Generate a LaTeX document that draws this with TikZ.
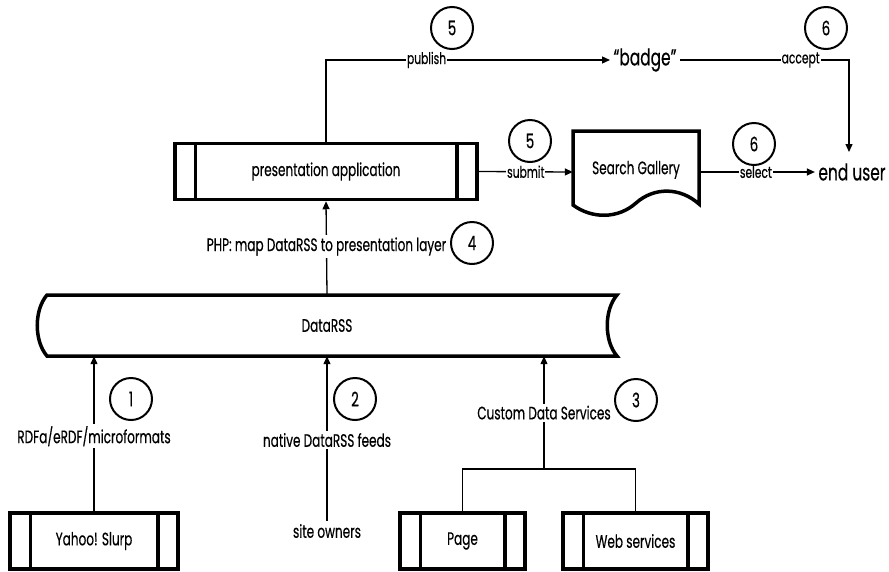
\documentclass[tikz,border=0pt]{standalone}
\usepackage{fontspec}
\setmainfont[FakeStretch=0.67,FakeBold=0.4]{Poppins}
\usetikzlibrary{arrows.meta}

\begin{document}
\begin{tikzpicture}[x=1pt,y=-1pt,
  font=\fontsize{18}{21}\selectfont,
  conn/.style={line width=1.3pt},
  arr/.style={conn,-{Triangle[length=8pt,width=7pt]}},
  procbox/.style={draw, line width=3.5pt, minimum height=56pt, inner sep=0pt},
  bar/.style={line width=3.5pt},
  num/.style={draw, circle, line width=2pt, minimum size=42pt, inner sep=0pt, font=\fontsize{20}{24}\selectfont},
  lblA/.style={fill=white, inner sep=2pt},
  lblB/.style={fill=white, inner sep=1pt, font=\fontsize{16}{18}\selectfont},
  big/.style={font=\fontsize{23}{27}\selectfont},
]
\useasboundingbox (0,0) rectangle (889,571);

% process boxes with double side bars
\node[procbox, minimum width=302pt] (pres) at (326,171.5) {presentation application};
\node[procbox, minimum width=168pt] (yahoo) at (94,541) {Yahoo! Slurp};
\node[procbox, minimum width=125pt] (page) at (462.5,541) {Page};
\node[procbox, minimum width=145pt] (web) at (635.5,541) {Web services};
\foreach \b in {pres,yahoo,page,web}{
  \draw[bar] ([xshift=22pt]\b.north west) -- ([xshift=22pt]\b.south west)
             ([xshift=-22pt]\b.north east) -- ([xshift=-22pt]\b.south east);
}

% stored data store
\node[minimum width=580pt, minimum height=61pt, inner sep=0pt] (data) at (327,325.5) {DataRSS};
\draw[bar] (47,295) -- (617,295) .. controls (604,310) and (604,341) .. (617,356)
  -- (47,356) .. controls (34,341) and (34,310) .. (47,295) -- cycle;

% document shape
\node[minimum width=126pt, minimum height=82pt, inner sep=0pt] (sg) at (636,172) {\raisebox{9pt}{Search Gallery}};
\draw[bar] (573,205) -- (573,131) -- (699,131) -- (699,204)
  .. controls (680,187) and (654,187) .. (636,203)
  .. controls (618,219) and (592,219) .. (573,205) -- cycle;

% plain text ends
\node[big] (badge) at (645,60) {“badge”};
\node[big] (eu) at (852,172) {end user};
\node (so) at (327,531) {site owners};
\coordinate (eutop) at (849,152);
\coordinate (br) at (544,469);

% connectors
\draw[arr] (pres.north) |- node[lblB, pos=0.677]{publish} (badge.west);
\draw[arr] (badge.east) -| node[lblB, pos=0.357]{accept} (eutop);
\draw[arr] (pres.east) -- node[lblB]{submit} (sg.west);
\draw[arr] (sg.east) -- node[lblB, pos=0.49]{select} (eu.west);
\draw[arr] (data.north) -- node[lblA, pos=0.516]{PHP: map DataRSS to presentation layer} (pres.south);
\draw[arr] (yahoo.north) -- node[lblA, pos=0.484]{RDFa/eRDF/microformats} (yahoo.north |- data.south);
\draw[arr] (so.north) -- node[lblA, pos=0.49]{native DataRSS feeds} (so.north |- data.south);
\draw[conn] (page.north) -- (page.north |- br) -- (web.north |- br) -- (web.north);
\draw[arr] (br) -- node[lblA, pos=0.5]{Custom Data Services} (br |- data.south);

% step numbers
\node[num] (n5a) at (452,28) {5};
\node[num] (n6a) at (826,28) {6};
\node[num] (n5b) at (530,141) {5};
\node[num] (n6b) at (754,144) {6};
\node[num] (n4) at (472,243) {4};
\node[num] (n1) at (131,399) {1};
\node[num] (n2) at (355,399) {2};
\node[num] (n3) at (636,400) {3};
\end{tikzpicture}
\end{document}
